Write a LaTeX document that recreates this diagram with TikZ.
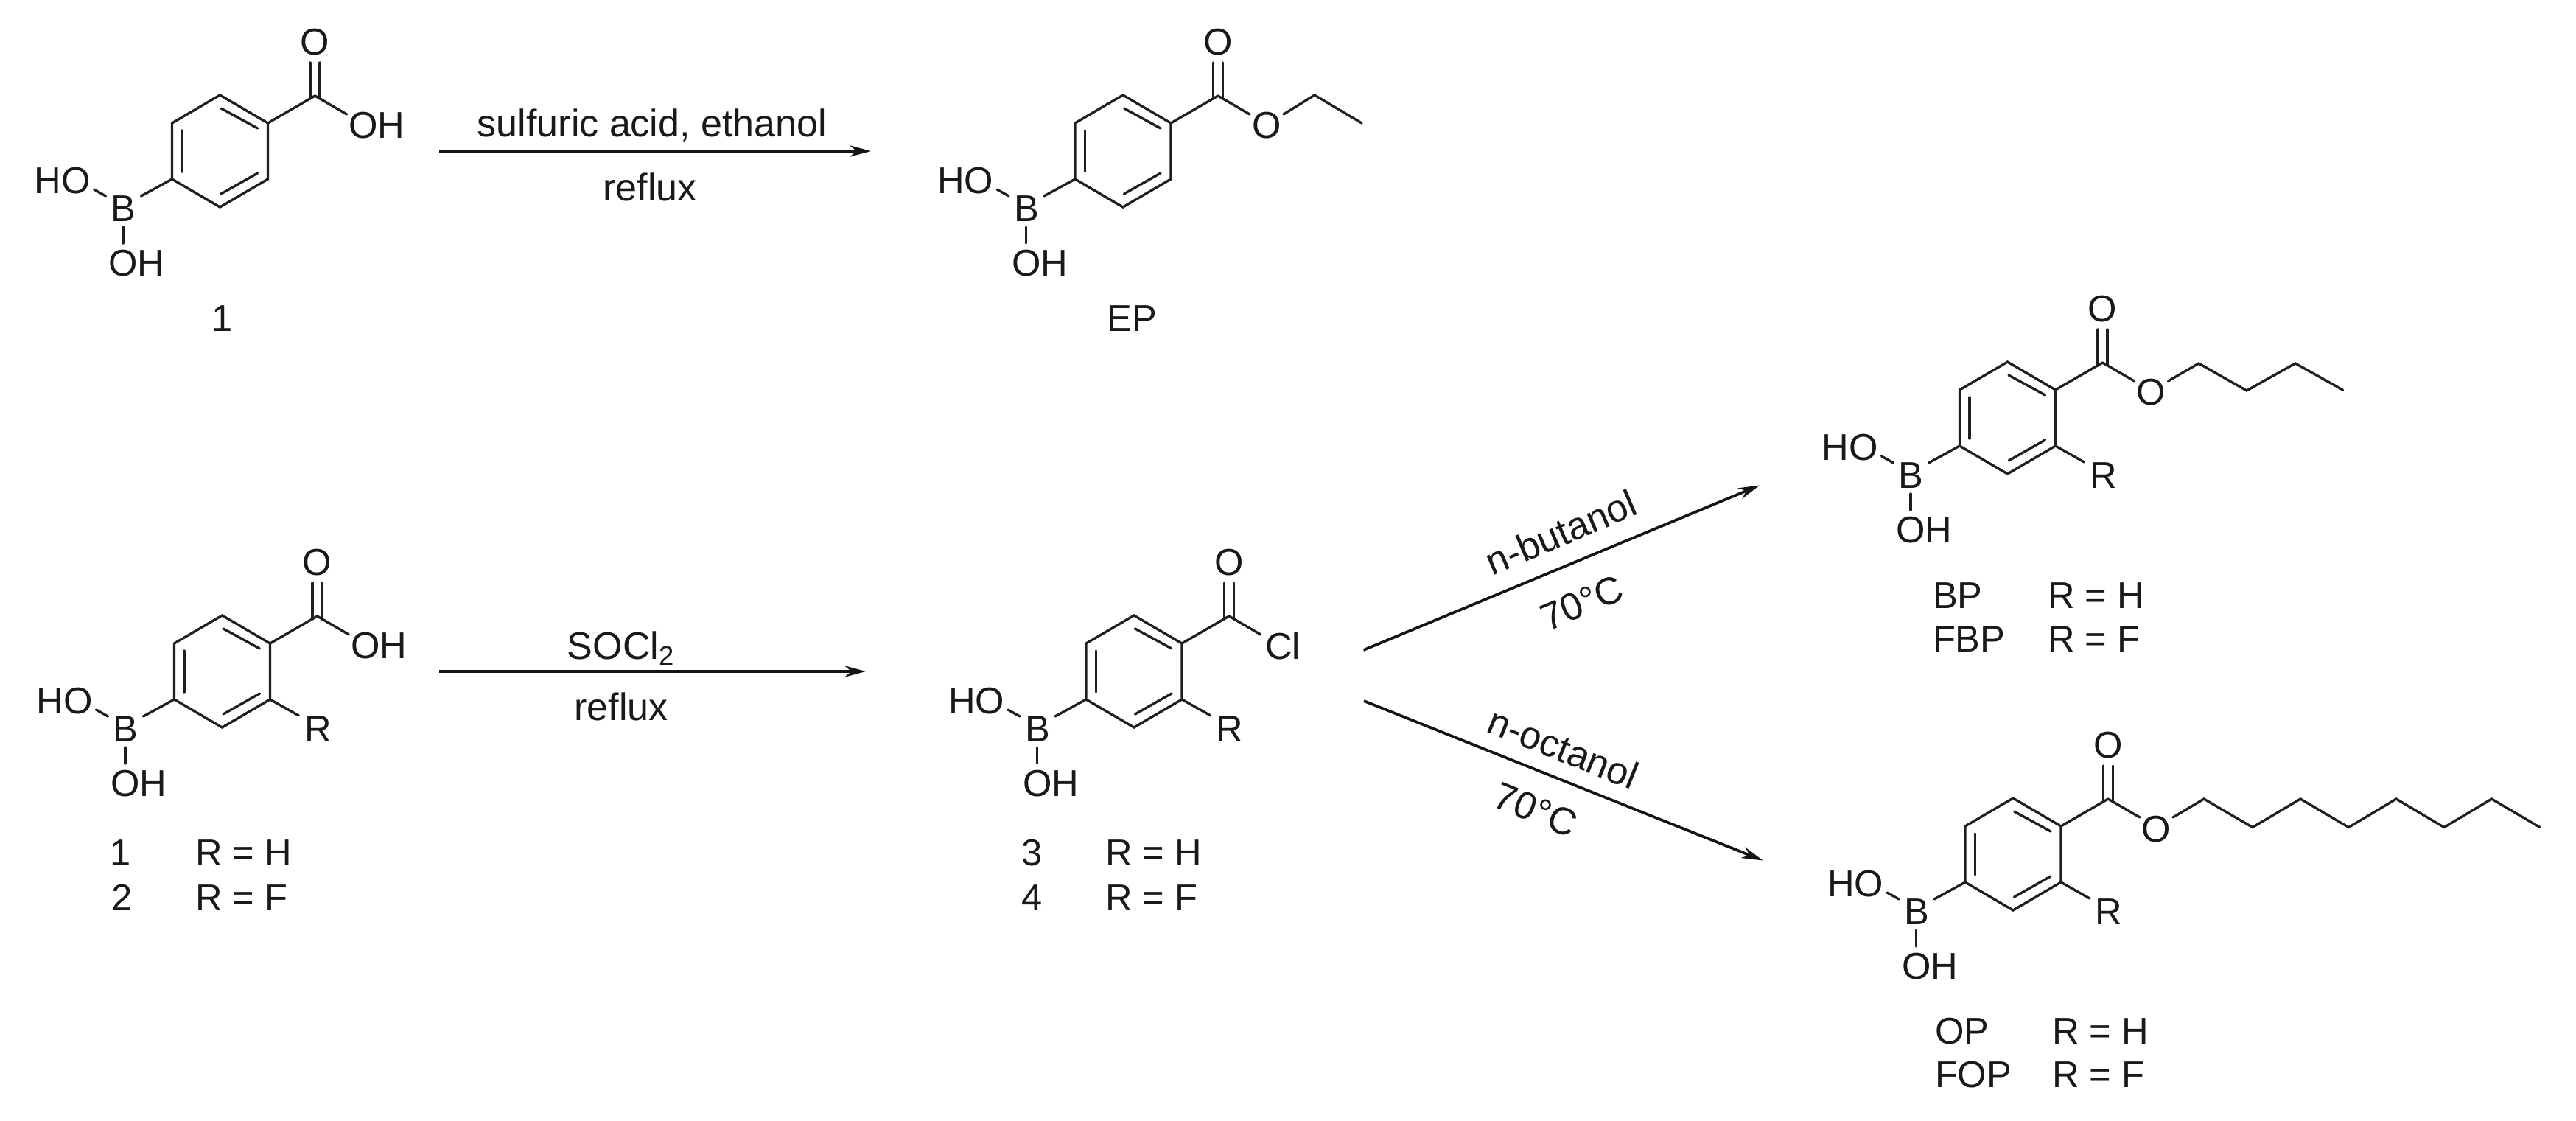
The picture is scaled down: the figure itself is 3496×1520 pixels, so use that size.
\documentclass[tikz,border=0pt]{standalone}
\usepackage{fontspec}
\setmainfont{Liberation Sans}
\usetikzlibrary{arrows.meta}
\tikzset{
  bond/.style={line width=0.95pt,line cap=round,line join=miter,draw=black!88},
  rxn/.style={line width=1.05pt,draw=black!92,-{Stealth[length=8.2pt,width=4.4pt]}},
  lab/.style={inner sep=0pt,outer sep=0pt,font=\fontsize{14.4pt}{16pt}\selectfont,text=black!90,text depth=0pt},
  cond/.style={lab,font=\fontsize{14.8pt}{16pt}\selectfont}
}
% common part: para-substituted phenylboronic acid with carbonyl carbon, centred on the ring
\newcommand\acidcore[3]{%
\begin{scope}[shift={(#2,#3)}]
  \coordinate (#1r1) at (0,-76); \coordinate (#1r2) at (65,-38); \coordinate (#1r3) at (65,38);
  \coordinate (#1r4) at (0,76); \coordinate (#1r5) at (-65,38); \coordinate (#1r6) at (-65,-38);
  \coordinate (#1a1) at (1.5,-58); \coordinate (#1a2) at (51,-31);
  \coordinate (#1b1) at (-51.5,-28); \coordinate (#1b2) at (-51.5,28);
  \coordinate (#1c1) at (1.5,58); \coordinate (#1c2) at (51,30);
  \coordinate (#1co) at (129,-75);
  \coordinate (#1d1) at (122.5,-71); \coordinate (#1d2) at (122.5,-120);
  \coordinate (#1e1) at (135.5,-71); \coordinate (#1e2) at (135.5,-120);
  \coordinate (#1f1) at (-107,61); \coordinate (#1g1) at (-171,52); \coordinate (#1g2) at (-155,61);
  \coordinate (#1h1) at (-131.5,103); \coordinate (#1h2) at (-131.5,125);
  \node[lab] (#1O) at (129,-148) {O};
  \node[lab] (#1B) at (-131,78) {B};
  \node[lab] (#1HO) at (-214,40) {HO};
  \node[lab] (#1OH) at (-113,152) {OH};
  \draw[bond] (#1r1) -- (#1r2) -- (#1r3) -- (#1r4) -- (#1r5) -- (#1r6) -- cycle;
  \draw[bond] (#1a1) -- (#1a2);
  \draw[bond] (#1b1) -- (#1b2);
  \draw[bond] (#1c1) -- (#1c2);
  \draw[bond] (#1r2) -- (#1co);
  \draw[bond] (#1d1) -- (#1d2);
  \draw[bond] (#1e1) -- (#1e2);
  \draw[bond] (#1r5) -- (#1f1);
  \draw[bond] (#1g1) -- (#1g2);
  \draw[bond] (#1h1) -- (#1h2);
  \coordinate (#1x1) at (172,-50);
  \draw[bond] (#1co) -- (#1x1);
\end{scope}}
% R substituent
\newcommand\rsubst[3]{%
\begin{scope}[shift={(#2,#3)}]
  \coordinate (#1y1) at (104,60);
  \node[lab] (#1R) at (130,78) {R};
  \draw[bond] (#1r3) -- (#1y1);
\end{scope}}
\begin{document}
\begin{tikzpicture}[x=0.01cm,y=-0.01cm]
\useasboundingbox[fill=white] (0,0) rectangle (3496,1520);

% top left: 1
\acidcore{a}{298.5}{205}
\node[lab] (aX) at (511,170) {OH};
\node[lab] (aname) at (302,432) {1};

% top right: EP
\acidcore{e}{1524}{205}
\node[lab] (eXO) at (1719,170) {O};
\coordinate (eo2) at (1742,155); \coordinate (ec1) at (1784,129); \coordinate (ec2) at (1848,167);
\draw[bond] (eo2) -- (ec1) -- (ec2);
\node[lab] (ename) at (1536,432) {EP};

% lower left: 1/2
\acidcore{m}{301.5}{911}
\rsubst{m}{301.5}{911}
\node[lab] (mX) at (514,876) {OH};
\node[lab] (mn1) at (164,1157) {1};
\node[lab] (mn2) at (166,1218) {2};
\node[lab,anchor=west] (mh) at (265,1157) {R = H};
\node[lab,anchor=west] (mf) at (265,1218) {R = F};

% centre: 3/4
\acidcore{c}{1539}{911}
\rsubst{c}{1539}{911}
\node[lab] (cX) at (1741,876) {Cl};
\node[lab] (cn1) at (1401,1157) {3};
\node[lab] (cn2) at (1401,1218) {4};
\node[lab,anchor=west] (ch) at (1500,1157) {R = H};
\node[lab,anchor=west] (cf) at (1500,1218) {R = F};

% BP / FBP
\acidcore{b}{2724.5}{567}
\rsubst{b}{2724.5}{567}
\node[lab] (bXO) at (2919.5,532) {O};
\coordinate (bo2) at (2942.5,517);
\coordinate (bc1) at (2984,493); \coordinate (bc2) at (3049,530);
\coordinate (bc3) at (3115,493); \coordinate (bc4) at (3179.5,529);
\draw[bond] (bo2) -- (bc1) -- (bc2) -- (bc3) -- (bc4);
\node[lab,anchor=west] (bn1) at (2623,808) {BP};
\node[lab,anchor=west] (bn2) at (2623,867) {FBP};
\node[lab,anchor=west] (bh) at (2779,808) {R = H};
\node[lab,anchor=west] (bf) at (2779,867) {R = F};

% OP / FOP
\acidcore{o}{2732}{1159}
\rsubst{o}{2732}{1159}
\node[lab] (oXO) at (2926,1125) {O};
\coordinate (oo2) at (2949,1109);
\coordinate (oc1) at (2991,1084); \coordinate (oc2) at (3057,1122.5);
\coordinate (oc3) at (3122,1084); \coordinate (oc4) at (3187.5,1122.5);
\coordinate (oc5) at (3252,1084); \coordinate (oc6) at (3317,1122.5);
\coordinate (oc7) at (3381.5,1084); \coordinate (oc8) at (3447,1122.5);
\draw[bond] (oo2) -- (oc1) -- (oc2) -- (oc3) -- (oc4) -- (oc5) -- (oc6) -- (oc7) -- (oc8);
\node[lab,anchor=west] (on1) at (2626,1399) {OP};
\node[lab,anchor=west] (on2) at (2626,1458) {FOP};
\node[lab,anchor=west] (oh) at (2785,1399) {R = H};
\node[lab,anchor=west] (of) at (2785,1458) {R = F};

% reaction arrows
\coordinate (t1) at (596,205); \coordinate (t2) at (1182,205);
\draw[rxn] (t1) -- (t2);
\node[cond] (t3) at (885,167) {sulfuric acid, ethanol};
\node[cond] (t4) at (882,254) {reflux};

\coordinate (s1) at (596,911); \coordinate (s2) at (1175,911);
\draw[rxn] (s1) -- (s2);
\node[cond] (s3) at (843,876) {SOCl\textsubscript{2}};
\node[cond] (s4) at (843,959) {reflux};

\coordinate (u1) at (1850.5,882); \coordinate (u2) at (2388,658.5);
\draw[rxn] (u1) -- (u2);
\node[cond,rotate=23] (u3) at (2118,722) {n-butanol};
\node[cond,rotate=22.5] (u4) at (2147,818) {70°C};

\coordinate (v1) at (1851,951); \coordinate (v2) at (2392.5,1167.5);
\draw[rxn] (v1) -- (v2);
\node[cond,rotate=-21.8] (v3) at (2122,1015) {n-octanol};
\node[cond,rotate=-21.8] (v4) at (2084,1098.5) {70°C};
\end{tikzpicture}
\end{document}
